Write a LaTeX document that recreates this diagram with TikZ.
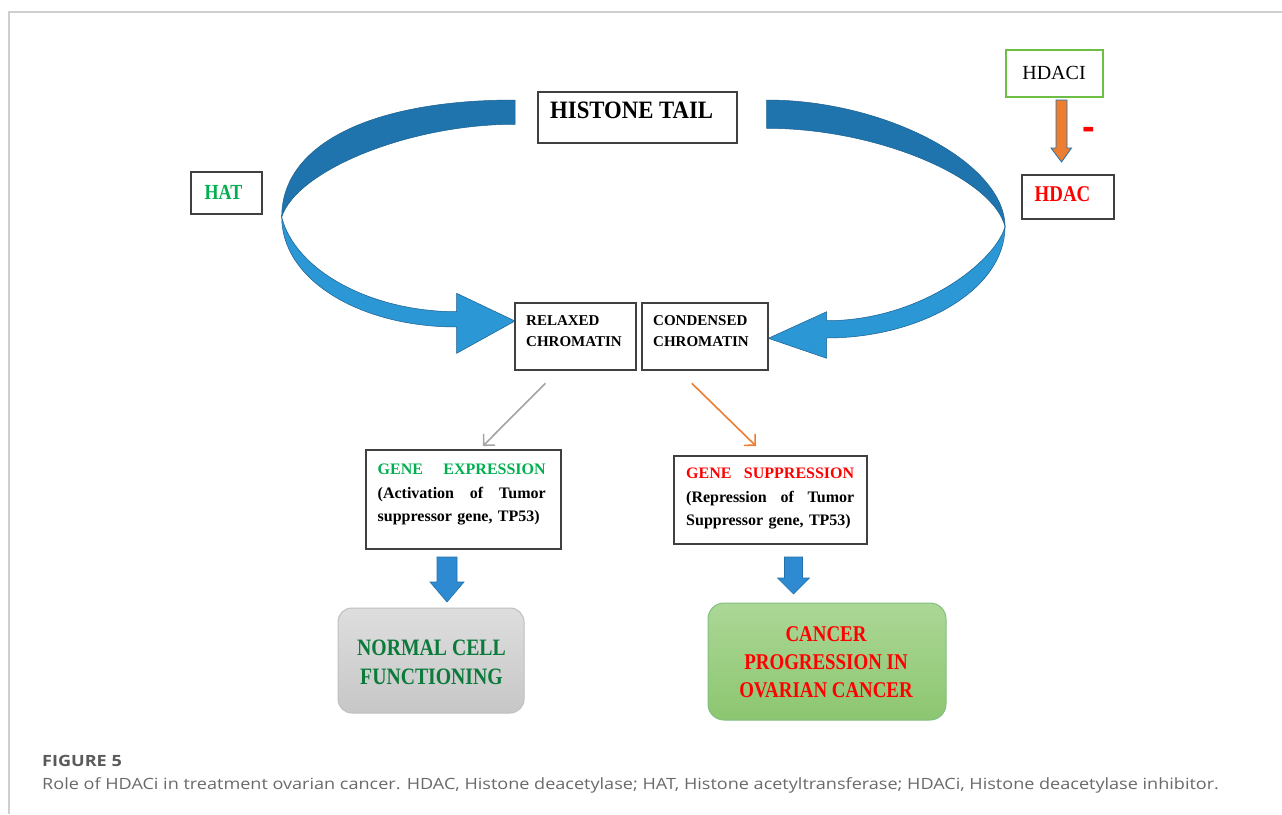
\documentclass[tikz,border=0pt]{standalone}
\usepackage{fontspec}
\setmainfont{Liberation Serif}
\newfontfamily\condfont{Liberation Serif}[FakeStretch=0.84]
\newfontfamily\tailfont{Liberation Serif}[FakeStretch=0.91]
\newfontfamily\capfont{Open Sans}[FakeStretch=1.165]
\newfontfamily\minusfont{Liberation Sans}
\usetikzlibrary{arrows.meta}
\definecolor{darkrib}{HTML}{1F74AE}
\definecolor{lightrib}{HTML}{2B97D5}
\definecolor{ribedge}{HTML}{1A5F8F}
\definecolor{boxgray}{HTML}{404040}
\definecolor{framegray}{HTML}{CFCFCF}
\definecolor{hatgreen}{HTML}{00B050}
\definecolor{normgreen}{HTML}{0B7A3A}
\definecolor{hdacigreen}{HTML}{6CBF44}
\definecolor{orangeA}{HTML}{ED7D31}
\definecolor{arrowgray}{HTML}{A5A5A5}
\definecolor{bluearrow}{HTML}{2E8BD2}
\definecolor{bluearrowedge}{HTML}{2470A8}
\definecolor{capgray}{HTML}{6A6A6A}
\definecolor{capgraydark}{HTML}{5A5A5A}
\begin{document}
\begin{tikzpicture}[x=1pt,y=-1pt,
  box/.style={draw=boxgray, line width=1.1pt, inner sep=0pt, fill=white},
  plain/.style={inner sep=0pt},
  thinarrow/.style={line width=1.6pt, -{Straight Barb[length=8pt,width=16pt]}},
  blockarrow/.style={fill=bluearrow, draw=bluearrowedge, line width=0.6pt},
  ribdark/.style={fill=darkrib, draw=ribedge, line width=0.5pt},
  riblight/.style={fill=lightrib, draw=ribedge, line width=0.5pt}]
\useasboundingbox (0,0) rectangle (1282,814);
\fill[white] (0,0) rectangle (1282,814);
\draw[framegray, line width=1.3pt] (9,814) -- (9,12) -- (1282,12);

% ---- left ribbon (HAT) ----
\filldraw[ribdark] (515,100) .. controls (370.5,100) and (281.7,144.5) .. (281.7,217)
   .. controls (297,170) and (410,124) .. (515,124.3) -- cycle;
\filldraw[riblight] (281.7,217) .. controls (281.7,280) and (360,327) .. (456.7,327)
   -- (456.7,353.3) -- (515,321) -- (456.7,293.3) -- (456.7,311.7)
   .. controls (370,311.7) and (295,270) .. (281.7,217) -- cycle;

% ---- right ribbon (HDAC) ----
\filldraw[ribdark] (766.7,100) .. controls (885.9,100) and (1005,163.4) .. (1005,226.7)
   .. controls (993,178) and (878,128.3) .. (766.7,128.3) -- cycle;
\filldraw[riblight] (1005,226.7) .. controls (1005,290) and (920,338) .. (826.7,338)
   -- (826.7,358.3) -- (768.3,338.3) -- (826.7,311.7) -- (826.7,320.7)
   .. controls (920,320.7) and (995,262) .. (1005,226.7) -- cycle;

% ---- boxes ----
\node[box, minimum width=199pt, minimum height=51pt] (tail) at (637.5,117.5) {};
\node[plain, anchor=west, font=\tailfont\bfseries\fontsize{25}{25}\selectfont] (tailt) at (550,110) {HISTONE TAIL};

\node[box, minimum width=71pt, minimum height=42pt] (hat) at (226.5,193) {};
\node[plain, text=hatgreen, font=\condfont\bfseries\fontsize{21.5}{21.5}\selectfont] (hatt) at (223.4,192) {HAT};

\node[box, draw=hdacigreen, minimum width=97pt, minimum height=47pt] (hdaci) at (1054.5,73.5) {};
\node[plain, font=\fontsize{20}{20}\selectfont] (hdacit) at (1054,73.3) {HDACI};

\node[box, minimum width=92pt, minimum height=44pt] (hdac) at (1068,197) {};
\node[plain, text=red, font=\condfont\bfseries\fontsize{22.5}{22.5}\selectfont] (hdact) at (1062.5,194) {HDAC};

\node[box, minimum width=121pt, minimum height=67pt] (relax) at (575.5,336.5) {};
\node[plain, anchor=north west, align=left, font=\bfseries\fontsize{15}{21}\selectfont] (relaxt) at (526,315) {RELAXED\\CHROMATIN};

\node[box, minimum width=126pt, minimum height=67pt] (cond) at (705,336.5) {};
\node[plain, anchor=north west, align=left, font=\bfseries\fontsize{15}{21}\selectfont] (condt) at (653,315) {CONDENSED\\CHROMATIN};

\node[box, minimum width=195pt, minimum height=99pt] (gexp) at (463.5,499.5) {};
\node[plain, anchor=north west, align=left, text width=168pt, font=\bfseries\fontsize{16}{23.5}\selectfont] (gexpt) at (377.5,464)
  {\makebox[168pt][s]{\color{hatgreen}GENE\hfill EXPRESSION}\\\makebox[168pt][s]{(Activation\hfill of\hfill Tumor}\\suppressor gene, TP53)};

\node[box, minimum width=193pt, minimum height=88pt] (gsup) at (770.5,500) {};
\node[plain, anchor=north west, align=left, text width=168pt, font=\bfseries\fontsize{16}{23.5}\selectfont] (gsupt) at (686,468)
  {\makebox[168pt][s]{\color{red}GENE\hfill SUPPRESSION}\\\makebox[168pt][s]{(Repression\hfill of\hfill Tumor}\\Suppressor gene, TP53)};

\node[draw=black!25, line width=1pt, rounded corners=14pt, top color=black!13, bottom color=black!22,
      minimum width=186pt, minimum height=105pt, inner sep=0pt] (normal) at (431,660.5) {};
\node[plain, align=center, text=normgreen, font=\condfont\bfseries\fontsize{23.5}{29}\selectfont] (normalt) at (431.5,662.5) {NORMAL CELL\\FUNCTIONING};

\node[draw=green!50!black!50!white, line width=1pt, rounded corners=16pt, top color={rgb,255:red,172;green,215;blue,150}, bottom color={rgb,255:red,140;green,198;blue,112},
      minimum width=238pt, minimum height=117pt, inner sep=0pt] (cancer) at (827,661.5) {};
\node[plain, align=center, text=red, font=\condfont\bfseries\fontsize{22.5}{28}\selectfont] (cancert) at (826,662.5) {CANCER\\PROGRESSION IN\\OVARIAN CANCER};

% ---- thin arrows ----
\coordinate (ga) at (545.4,383.3);
\coordinate (gb) at (482.9,446);
\draw[thinarrow, arrowgray] (ga) -- (gb);
\coordinate (oa) at (691.8,383.3);
\coordinate (ob) at (756,446);
\draw[thinarrow, orangeA] (oa) -- (ob);

% ---- HDACI inhibition arrow ----
\filldraw[fill=orangeA, draw=bluearrowedge, line width=0.8pt]
  (1056,100) -- (1067,100) -- (1067,148) -- (1071.5,148) -- (1061.5,162) -- (1051,148) -- (1056,148) -- cycle;
\node[plain, text=red, font=\minusfont\bfseries\fontsize{38}{38}\selectfont] (minus) at (1089,133) {-};

% ---- block arrows ----
\filldraw[blockarrow] (437,557) -- (457,557) -- (457,582) -- (464,582) -- (447,602) -- (430,582) -- (437,582) -- cycle;
\filldraw[blockarrow] (784.5,557) -- (802.5,557) -- (802.5,578) -- (809.5,578) -- (793.5,594) -- (777.5,578) -- (784.5,578) -- cycle;

% ---- caption ----
\node[plain, anchor=base west, text=capgraydark, font=\capfont\bfseries\fontsize{15.5}{15.5}\selectfont] (figlab) at (42,766.5) {FIGURE 5};
\node[plain, anchor=base west, text=capgray, font=\capfont\fontsize{15.5}{15.5}\selectfont] (capt) at (42,789) {Role of HDACi in treatment ovarian cancer. HDAC, Histone deacetylase; HAT, Histone acetyltransferase; HDACi, Histone deacetylase inhibitor.};
\end{tikzpicture}
\end{document}
